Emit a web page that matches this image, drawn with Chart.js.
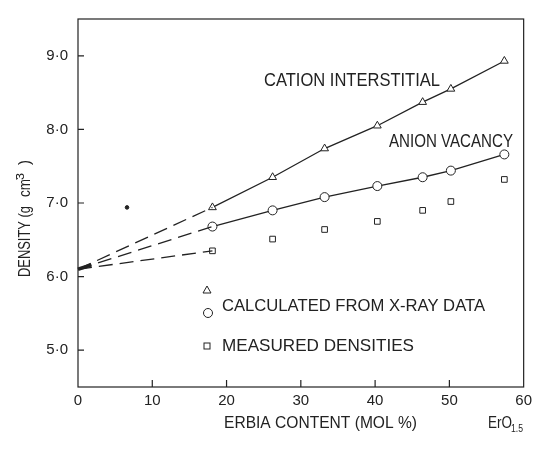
<!DOCTYPE html>
<html>
<head>
<meta charset="utf-8">
<script src="https://cdn.jsdelivr.net/npm/chart.js@4"></script>
<style>
  body { margin: 0; background: #fff; }
  #wrap { width: 537px; height: 467px; }
</style>
</head>
<body>
<div id="wrap"><canvas id="density-chart"></canvas></div>
<script>
// data
const erbia = [18.1, 26.2, 33.2, 40.3, 46.4, 50.2, 57.4];
const cationInterstitial = [6.94, 7.35, 7.74, 8.05, 8.37, 8.55, 8.93];
const anionVacancy = [6.68, 6.90, 7.08, 7.23, 7.35, 7.44, 7.66];
const measured = [6.35, 6.51, 6.64, 6.75, 6.90, 7.02, 7.32];
const intercept = 6.1;
const strayDot = [{x: 6.6, y: 6.94}];
const xTicks = [0, 10, 20, 30, 40, 50, 60];
const yTicks = [5, 6, 7, 8, 9];

const ink = "#222";
const font = "'Liberation Sans', sans-serif";

function pts(ys) {
  return erbia.map((x, i) => ({x: x, y: ys[i]}));
}
function extrap(ys) {
  return [{x: 0, y: intercept}, {x: erbia[0], y: ys[0]}];
}

function fitText(ctx, text, x, y, width, size, rot) {
  ctx.save();
  ctx.font = size + "px " + font;
  const w = ctx.measureText(text).width;
  ctx.translate(x, y);
  if (rot) ctx.rotate(rot);
  ctx.scale(width / w, 1);
  ctx.fillText(text, 0, 0);
  ctx.restore();
}

const decor = {
  id: 'decor',
  afterDraw(chart) {
    const ctx = chart.ctx, a = chart.chartArea;
    const xs = chart.scales.x, ys = chart.scales.y;
    ctx.save();
    ctx.strokeStyle = ink;
    ctx.lineWidth = 1.2;
    ctx.strokeRect(a.left, a.top, a.right - a.left, a.bottom - a.top);
    // inward ticks
    ctx.beginPath();
    xTicks.slice(1, -1).forEach(v => {
      const px = xs.getPixelForValue(v);
      ctx.moveTo(px, a.bottom); ctx.lineTo(px, a.bottom - 7);
    });
    yTicks.forEach(v => {
      const py = ys.getPixelForValue(v);
      ctx.moveTo(a.left, py); ctx.lineTo(a.left + 6, py);
    });
    ctx.stroke();

    ctx.fillStyle = ink;
    ctx.textBaseline = 'alphabetic';
    fitText(ctx, "CATION INTERSTITIAL", 264, 86, 176, 18);
    fitText(ctx, "ANION VACANCY", 389, 147, 124, 18);
    fitText(ctx, "CALCULATED FROM X-RAY DATA", 222, 311, 263, 17);
    fitText(ctx, "MEASURED DENSITIES", 222, 351, 192, 17);
    fitText(ctx, "ERBIA CONTENT (MOL %)", 224, 428, 193, 16);
    fitText(ctx, "ErO", 488, 428, 24, 16);
    fitText(ctx, "1.5", 511, 432, 12, 11);
    // y title, rotated
    const up = -Math.PI / 2;
    fitText(ctx, "DENSITY (g", 30, 277, 71, 16, up);
    fitText(ctx, "cm", 30, 197, 18, 16, up);
    fitText(ctx, "3", 24, 180, 7, 11, up);
    fitText(ctx, "\u2212", 20, 180, 6, 10, up);
    fitText(ctx, ")", 30, 165, 5, 16, up);

    // legend glyphs
    ctx.lineWidth = 1;
    ctx.beginPath();
    ctx.moveTo(207, 286); ctx.lineTo(211, 293); ctx.lineTo(203, 293); ctx.closePath();
    ctx.stroke();
    ctx.beginPath();
    ctx.arc(208, 313, 4.5, 0, Math.PI * 2);
    ctx.stroke();
    ctx.strokeRect(204, 343, 6, 6);
    ctx.restore();
  }
};

new Chart(document.getElementById("density-chart"), {
  type: 'scatter',
  data: {
    datasets: [
      { data: extrap(cationInterstitial), showLine: true, borderDash: [14, 7], pointRadius: 0 },
      { data: pts(cationInterstitial), showLine: true, pointStyle: 'triangle', pointRadius: 4.5 },
      { data: extrap(anionVacancy), showLine: true, borderDash: [14, 7], pointRadius: 0 },
      { data: pts(anionVacancy), showLine: true, pointStyle: 'circle', pointRadius: 4.5 },
      { data: extrap(measured), showLine: true, borderDash: [14, 7], pointRadius: 0 },
      { data: pts(measured), showLine: false, pointStyle: 'rect', pointRadius: 4 },
      { data: strayDot, pointRadius: 1.8, backgroundColor: ink },
      { data: [{x: 0, y: intercept}, {x: 1.8, y: 6.16}], showLine: true, borderWidth: 3.5, pointRadius: 0 }
    ].map(d => Object.assign({
      borderColor: ink,
      backgroundColor: '#fff',
      borderWidth: 1.3,
      pointBorderWidth: 1,
      clip: false
    }, d))
  },
  options: {
    responsive: true,
    maintainAspectRatio: false,
    animation: false,
    layout: { padding: { top: 13, right: 12, left: 0, bottom: 0 } },
    plugins: { legend: { display: false }, tooltip: { enabled: false } },
    scales: {
      x: {
        type: 'linear', min: 0, max: 60,
        afterBuildTicks: s => { s.ticks = xTicks.map(v => ({value: v})); },
        afterFit: s => { s.height = 80; },
        grid: { display: false, drawTicks: false },
        border: { display: false },
        ticks: { color: ink, padding: 5, font: { family: font, size: 15 } }
      },
      y: {
        type: 'linear', min: 4.5, max: 9.5,
        afterBuildTicks: s => { s.ticks = yTicks.map(v => ({value: v})); },
        afterFit: s => { s.width = 78; },
        grid: { display: false, drawTicks: false },
        border: { display: false },
        ticks: { color: ink, padding: 10, font: { family: font, size: 15 },
                 callback: v => v.toFixed(1).replace('.', '·') }
      }
    }
  },
  plugins: [decor]
});
</script>
</body>
</html>
